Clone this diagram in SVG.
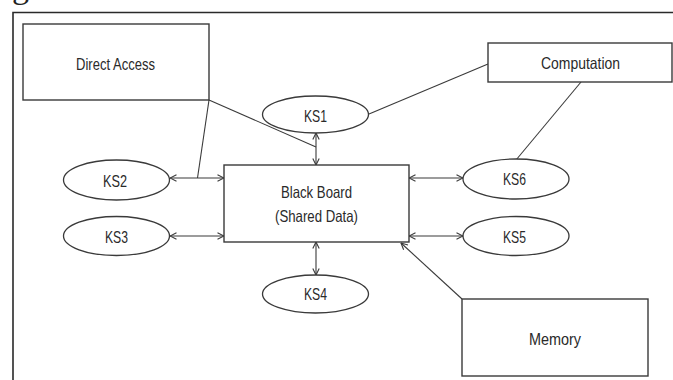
<svg xmlns="http://www.w3.org/2000/svg" width="673" height="380" viewBox="0 0 673 380">
  <style>
    .box { fill: #ffffff; stroke: #3a3a3a; stroke-width: 1.4; }
    .ks { fill: #ffffff; stroke: #3a3a3a; stroke-width: 1.3; }
    .lbl { font-family: "Liberation Sans", Arial, sans-serif; font-size: 16.5px; fill: #2a2a2a; }
    .link { fill: none; stroke: #3a3a3a; stroke-width: 1.1; }
    .arrow { fill: none; stroke: #3a3a3a; stroke-width: 1.1; marker-start: url(#head); marker-end: url(#head); }
    .frame { fill: none; stroke: #2a2a2a; stroke-width: 1.6; }
  </style>
  <defs>
    <marker id="head" viewBox="0 0 8 8" refX="7.5" refY="4" markerWidth="8" markerHeight="8" markerUnits="userSpaceOnUse" orient="auto-start-reverse">
      <path d="M1,0.8 L7.5,4 L1,7.2" fill="none" stroke="#3a3a3a" stroke-width="1.1"/>
    </marker>
  </defs>
  <rect x="0" y="0" width="673" height="380" fill="#ffffff"/>

  <!-- caption fragment above the frame -->
  <text x="12" y="-2" font-family="Liberation Serif, serif" font-size="34" fill="#222">g</text>

  <!-- outer frame -->
  <path class="frame" d="M13,380 L13,12.5 L673,12.5"/>

  <!-- connectors -->
  <g id="connectors">
    <line class="link" x1="209" y1="100" x2="197.5" y2="178"/>
    <line class="link" x1="209" y1="100" x2="316" y2="147"/>
    <line class="link" x1="369" y1="114" x2="488" y2="64"/>
    <line class="link" x1="581" y1="82" x2="516" y2="160"/>
    <line class="arrow" x1="170" y1="178" x2="224" y2="178"/>
    <line class="arrow" x1="170" y1="236" x2="224" y2="236"/>
    <line class="arrow" x1="316" y1="133" x2="316" y2="165"/>
    <line class="arrow" x1="316" y1="242" x2="316" y2="275"/>
    <line class="arrow" x1="409" y1="178" x2="463" y2="178"/>
    <line class="arrow" x1="409" y1="236" x2="463" y2="236"/>
    <line class="link" x1="462" y1="299" x2="401" y2="243" marker-end="url(#head)"/>
  </g>

  <g id="direct-access">
    <rect class="box" x="23" y="24" width="186" height="76"/>
    <text class="lbl" x="76" y="70" textLength="79" lengthAdjust="spacingAndGlyphs">Direct Access</text>
  </g>

  <g id="computation">
    <rect class="box" x="488" y="43" width="184" height="39"/>
    <text class="lbl" x="541" y="69" textLength="79" lengthAdjust="spacingAndGlyphs">Computation</text>
  </g>

  <g id="memory">
    <rect class="box" x="462" y="299" width="186" height="77"/>
    <text class="lbl" x="529" y="345" textLength="52" lengthAdjust="spacingAndGlyphs">Memory</text>
  </g>

  <g id="blackboard">
    <rect class="box" x="224" y="165" width="185" height="77"/>
    <text class="lbl" x="281" y="198" textLength="71" lengthAdjust="spacingAndGlyphs">Black Board</text>
    <text class="lbl" x="275" y="222" textLength="83" lengthAdjust="spacingAndGlyphs">(Shared Data)</text>
  </g>

  <g id="ks1">
    <ellipse class="ks" cx="315.5" cy="114.5" rx="53" ry="18.5"/>
    <text class="lbl" x="304" y="122" textLength="23" lengthAdjust="spacingAndGlyphs">KS1</text>
  </g>
  <g id="ks2">
    <ellipse class="ks" cx="116.5" cy="180" rx="53" ry="20"/>
    <text class="lbl" x="103" y="187" textLength="24" lengthAdjust="spacingAndGlyphs">KS2</text>
  </g>
  <g id="ks3">
    <ellipse class="ks" cx="116.5" cy="236" rx="53" ry="19.5"/>
    <text class="lbl" x="105" y="243" textLength="23" lengthAdjust="spacingAndGlyphs">KS3</text>
  </g>
  <g id="ks4">
    <ellipse class="ks" cx="315.5" cy="294" rx="53" ry="19"/>
    <text class="lbl" x="304" y="300" textLength="23" lengthAdjust="spacingAndGlyphs">KS4</text>
  </g>
  <g id="ks5">
    <ellipse class="ks" cx="516" cy="236" rx="53" ry="19.5"/>
    <text class="lbl" x="503" y="243" textLength="23" lengthAdjust="spacingAndGlyphs">KS5</text>
  </g>
  <g id="ks6">
    <ellipse class="ks" cx="516" cy="179" rx="53" ry="20"/>
    <text class="lbl" x="503" y="185" textLength="23" lengthAdjust="spacingAndGlyphs">KS6</text>
  </g>
</svg>
